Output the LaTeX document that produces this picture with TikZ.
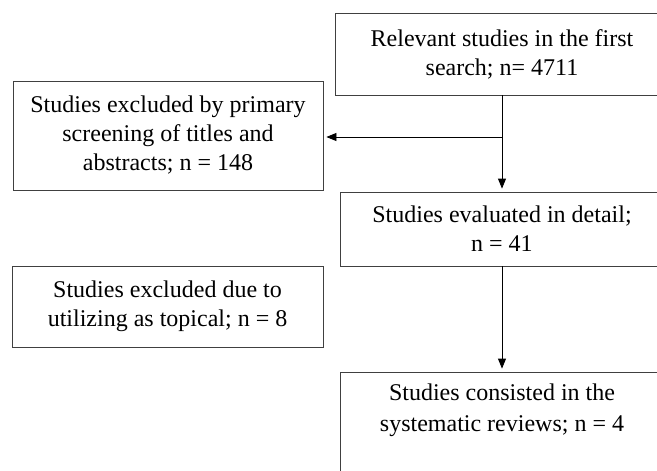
\documentclass[tikz,border=0pt]{standalone}
\usepackage{fontspec}
\setmainfont{Liberation Serif}
\usetikzlibrary{arrows.meta, positioning}

\begin{document}
\begin{tikzpicture}[x=1pt, y=-1pt,
    box/.style = {draw=black!75, line width=0.8pt, align=center, inner sep=0pt,
        font=\fontsize{24}{29}\selectfont},
    boxtext/.style = {align=center, inner sep=0pt, font=\fontsize{24}{31}\selectfont},
    flow/.style = {-{Triangle[length=10pt,width=8pt]}, line width=0.8pt, shorten >=3pt}]
  \useasboundingbox (0,0) rectangle (657,471);
  \clip (0,0) rectangle (657,471);

  \node[box, minimum width=334pt, minimum height=82pt] (first) at (502,54)
      {Relevant studies in the first\\search; n= 4711};
  \node[box, minimum width=310pt, minimum height=109pt] (excl1) at (168,135.5)
      {Studies excluded by primary\\screening of titles and\\abstracts; n = 148};
  \node[box, minimum width=324pt, minimum height=74pt] (detail) at (502,229)
      {Studies evaluated in detail;\\n = 41};
  \node[box, minimum width=311pt, minimum height=81pt] (excl2) at (167.5,306.5)
      {Studies excluded due to\\utilizing as topical; n = 8};
  \node[box, minimum width=324pt, minimum height=120pt] (final) at (502,432) {};
  \node[boxtext, below=12pt of final.north] (finaltext)
      {Studies consisted in the\\systematic reviews; n = 4};

  \coordinate (split) at (first.south |- 0,137);

  \draw[flow] (first) -- (detail);
  \draw[flow] (split) -- (excl1.east |- split);
  \draw[flow] (detail) -- (final);
\end{tikzpicture}
\end{document}
